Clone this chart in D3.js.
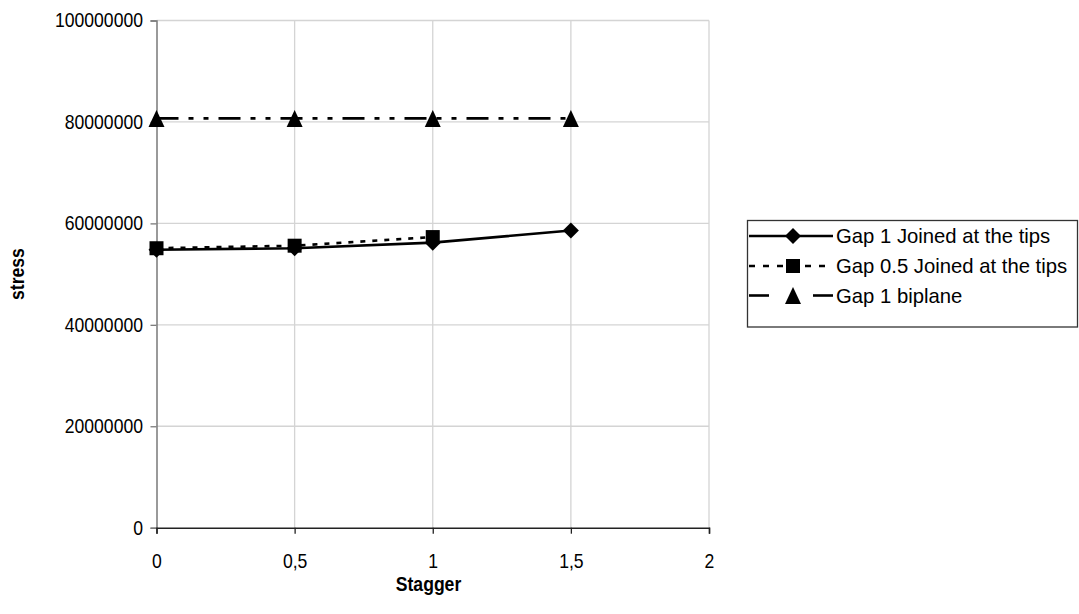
<!DOCTYPE html>
<html>
<head>
<meta charset="utf-8">
<script src="https://cdn.jsdelivr.net/npm/d3@7/dist/d3.min.js"></script>
<style>
  html, body { margin: 0; padding: 0; background: #fff; }
  svg { display: block; font-family: "Liberation Sans", Arial, sans-serif; }
</style>
</head>
<body>
<svg id="chart" width="1079" height="614"></svg>
<script>
// Stagger positions and stress values per configuration
const stagger = [0, 0.5, 1, 1.5];
const gap1Joined = [54800000, 55100000, 56200000, 58600000];
const gap05Joined = [55100000, 55600000, 57300000];
const gap1Biplane = [80700000, 80700000, 80700000, 80700000];

const xTicks = [0, 0.5, 1, 1.5, 2];
const yTicks = [0, 20000000, 40000000, 60000000, 80000000, 100000000];

const seriesNames = ["Gap 1 Joined at the tips", "Gap 0.5 Joined at the tips", "Gap 1 biplane"];

const series = [
  { name: seriesNames[0], values: gap1Joined, dash: null, marker: "diamond" },
  { name: seriesNames[1], values: gap05Joined, dash: "5,7", marker: "square" },
  { name: seriesNames[2], values: gap1Biplane, dash: "22,10,5,10,5,10", marker: "triangle" }
];

const svg = d3.select("#chart");
const plot = { left: 156.5, right: 709, top: 20.5, bottom: 527.7 };
const narrow = 0.88; // horizontal squeeze of the axis lettering

const x = d3.scaleLinear().domain([0, 2]).range([plot.left, plot.right]);
const y = d3.scaleLinear().domain([0, 100000000]).range([plot.bottom, plot.top]);

// gridlines
const grid = svg.append("g");
grid.selectAll("line.h").data(yTicks.filter(d => d > 0)).join("line")
  .attr("x1", plot.left).attr("x2", plot.right)
  .attr("y1", d => y(d)).attr("y2", d => y(d))
  .attr("stroke", "#d4d4d4").attr("stroke-width", 1.3);
grid.selectAll("line.v").data(xTicks.filter(d => d > 0)).join("line")
  .attr("y1", plot.top).attr("y2", plot.bottom)
  .attr("x1", d => x(d)).attr("x2", d => x(d))
  .attr("stroke", "#d4d4d4").attr("stroke-width", 1.3);

// y axis
const yAxis = svg.append("g")
  .attr("transform", `translate(${plot.left},0)`)
  .call(d3.axisLeft(y).tickValues(yTicks).tickSize(6).tickPadding(7).tickFormat(d3.format("d")));
yAxis.select(".domain").attr("stroke", "#7a7a7a").attr("stroke-width", 1.5);
yAxis.selectAll(".tick line").attr("stroke", "#7a7a7a").attr("stroke-width", 1.3);
yAxis.selectAll(".tick text")
  .attr("font-size", "20px").attr("fill", "#000")
  .attr("font-family", "'Liberation Sans', Arial, sans-serif")
  .attr("x", 0)
  .attr("transform", `translate(-13.5,0) scale(${narrow},1)`);

// x axis
const xAxis = svg.append("g")
  .attr("transform", `translate(0,${plot.bottom})`)
  .call(d3.axisBottom(x).tickValues(xTicks).tickSize(6).tickPadding(20)
    .tickFormat(d => String(d).replace(".", ",")));
xAxis.select(".domain").attr("stroke", "#222").attr("stroke-width", 1.5);
xAxis.selectAll(".tick line").attr("stroke", "#222").attr("stroke-width", 1.3);
xAxis.selectAll(".tick text")
  .attr("font-size", "20px").attr("fill", "#000")
  .attr("font-family", "'Liberation Sans', Arial, sans-serif")
  .attr("transform", `scale(${narrow},1)`);

// axis titles
svg.append("text")
  .attr("transform", `translate(428.5,591) scale(${narrow},1)`)
  .attr("text-anchor", "middle").attr("font-weight", "bold").attr("font-size", "20px")
  .text("Stagger");
svg.append("text")
  .attr("transform", `translate(24,${(plot.top + plot.bottom) / 2}) rotate(-90) scale(${narrow},1)`)
  .attr("text-anchor", "middle").attr("font-weight", "bold").attr("font-size", "20px")
  .text("stress");

// marker shapes
function markerPath(kind, cx, cy) {
  if (kind === "diamond") {
    const r = 8;
    return `M${cx},${cy - r}L${cx + r},${cy}L${cx},${cy + r}L${cx - r},${cy}Z`;
  }
  if (kind === "square") {
    const h = 7;
    return `M${cx - h},${cy - h}H${cx + h}V${cy + h}H${cx - h}Z`;
  }
  const w = 8, t = 8.5, b = 8.5;
  return `M${cx},${cy - t}L${cx + w},${cy + b}L${cx - w},${cy + b}Z`;
}

const line = d3.line().x(d => x(d.x)).y(d => y(d.y));

series.forEach(s => {
  const pts = s.values.map((v, i) => ({ x: stagger[i], y: v }));
  const g = svg.append("g");
  g.append("path").datum(pts)
    .attr("d", line)
    .attr("fill", "none").attr("stroke", "#000").attr("stroke-width", 2.6)
    .attr("stroke-dasharray", s.dash);
  g.selectAll("path.m").data(pts).join("path")
    .attr("d", d => markerPath(s.marker, x(d.x), y(d.y)))
    .attr("fill", "#000");
});

// legend
const legend = svg.append("g");
legend.append("rect")
  .attr("x", 747.5).attr("y", 220.5).attr("width", 330).attr("height", 106.5)
  .attr("fill", "#fff").attr("stroke", "#333").attr("stroke-width", 1.3);

const rowY = [236, 266, 295.5];
series.forEach((s, i) => {
  const cy = rowY[i];
  const key = legend.append("g");
  if (i === 0) {
    key.append("line").attr("x1", 749).attr("x2", 833).attr("y1", cy).attr("y2", cy);
  } else if (i === 1) {
    key.append("line").attr("x1", 749).attr("x2", 826).attr("y1", cy).attr("y2", cy)
      .attr("stroke-dasharray", "6,8");
  } else {
    key.append("line").attr("x1", 749).attr("x2", 769).attr("y1", cy).attr("y2", cy);
    key.append("line").attr("x1", 813).attr("x2", 833).attr("y1", cy).attr("y2", cy);
  }
  key.selectAll("line").attr("stroke", "#000").attr("stroke-width", 2.6);
  key.append("path").attr("d", markerPath(s.marker, 793, cy)).attr("fill", "#000");
  legend.append("text")
    .attr("x", 836).attr("y", cy).attr("dy", "0.35em")
    .attr("font-size", "20.3px")
    .text(s.name);
});
</script>
</body>
</html>
